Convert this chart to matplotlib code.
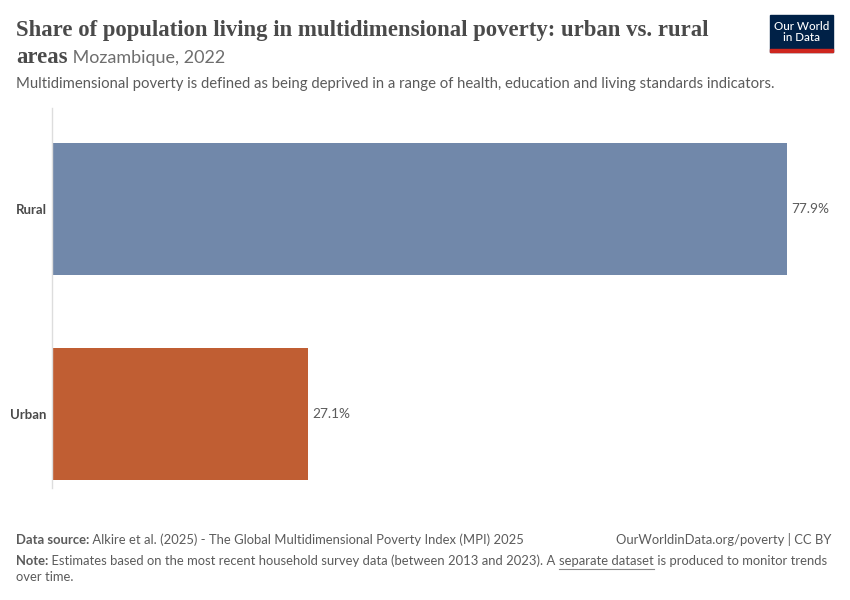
import matplotlib.pyplot as plt
from matplotlib.patches import Rectangle

categories = ["Rural", "Urban"]
values = [77.9, 27.1]
colors = ["#7188aa", "#c05e33"]

W, H = 850, 600


def px(x, y):
    # pixel (from top-left) to figure fraction
    return x / W, 1 - y / H


def place_after(fig, prev, text, **kw):
    fig.canvas.draw()
    r = fig.canvas.get_renderer()
    bb = prev.get_window_extent(r)
    x0 = bb.x1 / fig.dpi / fig.get_figwidth()
    return fig.text(x0, prev.get_position()[1], text, **kw)


def main():
    plt.rcParams['font.family'] = ['Lato', 'DejaVu Sans']
    fig = plt.figure(figsize=(8.5, 6), dpi=100)

    # axes placement in pixels: left 52, right 830, top 108, bottom 488
    l, b = px(52, 488)
    r, t = px(830, 108)
    ax = fig.add_axes([l, b, r - l, t - b])
    ypos = [0, 1]
    ax.barh(ypos, values, height=0.644, color=colors)
    ax.set_xlim(0, 82.46)
    ax.set_ylim(1.361, -0.493)
    for s in ["top", "right", "bottom"]:
        ax.spines[s].set_visible(False)
    ax.spines["left"].set_color("#dddddd")
    ax.spines["left"].set_linewidth(1)
    ax.set_xticks([])
    ax.set_yticks(ypos)
    ax.set_yticklabels(categories, fontsize=9.5, fontweight="bold", color="#4a4a4a")
    ax.tick_params(axis="y", length=0, pad=4)
    for y, v in zip(ypos, values):
        ax.text(v + 0.45, y, f"{v}%", va="center", ha="left", fontsize=9.8, color="#5b5b5b")

    # title
    tfont = dict(family=["Liberation Serif", "DejaVu Serif"], fontsize=16.4,
                 fontweight="bold", color="#4a4a4a")
    x0, y0 = px(16, 36)
    fig.text(x0, y0, "Share of population living in multidimensional poverty: urban vs. rural",
             va="baseline", **tfont)
    x0, y0 = px(16, 63)
    t2 = fig.text(x0, y0, "areas", va="baseline", **tfont)
    place_after(fig, t2, " Mozambique, 2022", va="baseline", fontsize=13, color="#6e6e6e")

    x0, y0 = px(16, 88)
    fig.text(x0, y0, "Multidimensional poverty is defined as being deprived in a range of health, "
             "education and living standards indicators.", va="baseline", fontsize=10.68,
             color="#5b5b5b")

    # logo
    lx, ly = px(770, 52)
    fig.patches.append(Rectangle((lx, ly), 63 / W, 37 / H, transform=fig.transFigure,
                                 color="#002147", zorder=1))
    fig.patches.append(Rectangle((lx, ly), 63 / W, 3 / H, transform=fig.transFigure,
                                 color="#ce261e", zorder=2))
    cx, cy = px(801.5, 32)
    fig.text(cx, cy, "Our World\nin Data", ha="center", va="center", fontsize=8.4,
             color="white", linespacing=1.0, fontweight="medium")

    # footer
    fs = 9.38
    x0, y0 = px(16, 544)
    ds = fig.text(x0, y0, "Data source:", va="baseline", fontsize=fs, fontweight="bold", color="#5b5b5b")
    place_after(fig, ds, " Alkire et al. (2025) - The Global Multidimensional Poverty Index (MPI) 2025",
                va="baseline", fontsize=fs, color="#5b5b5b")
    x1, _ = px(831, 544)
    fig.text(x1, y0, "OurWorldinData.org/poverty | CC BY", ha="right", va="baseline",
             fontsize=fs, color="#5b5b5b")
    x0, y0 = px(16, 565)
    nt = fig.text(x0, y0, "Note:", va="baseline", fontsize=fs, fontweight="bold", color="#5b5b5b")
    n2 = place_after(fig, nt, " Estimates based on the most recent household survey data "
                     "(between 2013 and 2023). A ", va="baseline", fontsize=fs, color="#5b5b5b")
    n3 = place_after(fig, n2, "separate dataset", va="baseline", fontsize=fs, color="#5b5b5b")
    place_after(fig, n3, " is produced to monitor trends", va="baseline", fontsize=fs, color="#5b5b5b")
    fig.canvas.draw()
    bb = n3.get_window_extent(fig.canvas.get_renderer())
    ux0 = bb.x0 / fig.dpi / fig.get_figwidth()
    ux1 = bb.x1 / fig.dpi / fig.get_figwidth()
    uy = 1 - 568.5 / H
    fig.add_artist(plt.Line2D([ux0, ux1], [uy, uy], transform=fig.transFigure,
                              color="#8a8a8a", lw=0.8))
    x0, y0 = px(16, 581)
    fig.text(x0, y0, "over time.", va="baseline", fontsize=fs, color="#5b5b5b")

    fig.savefig("out.png", dpi=100, facecolor="white")


if __name__ == '__main__':
    main()
